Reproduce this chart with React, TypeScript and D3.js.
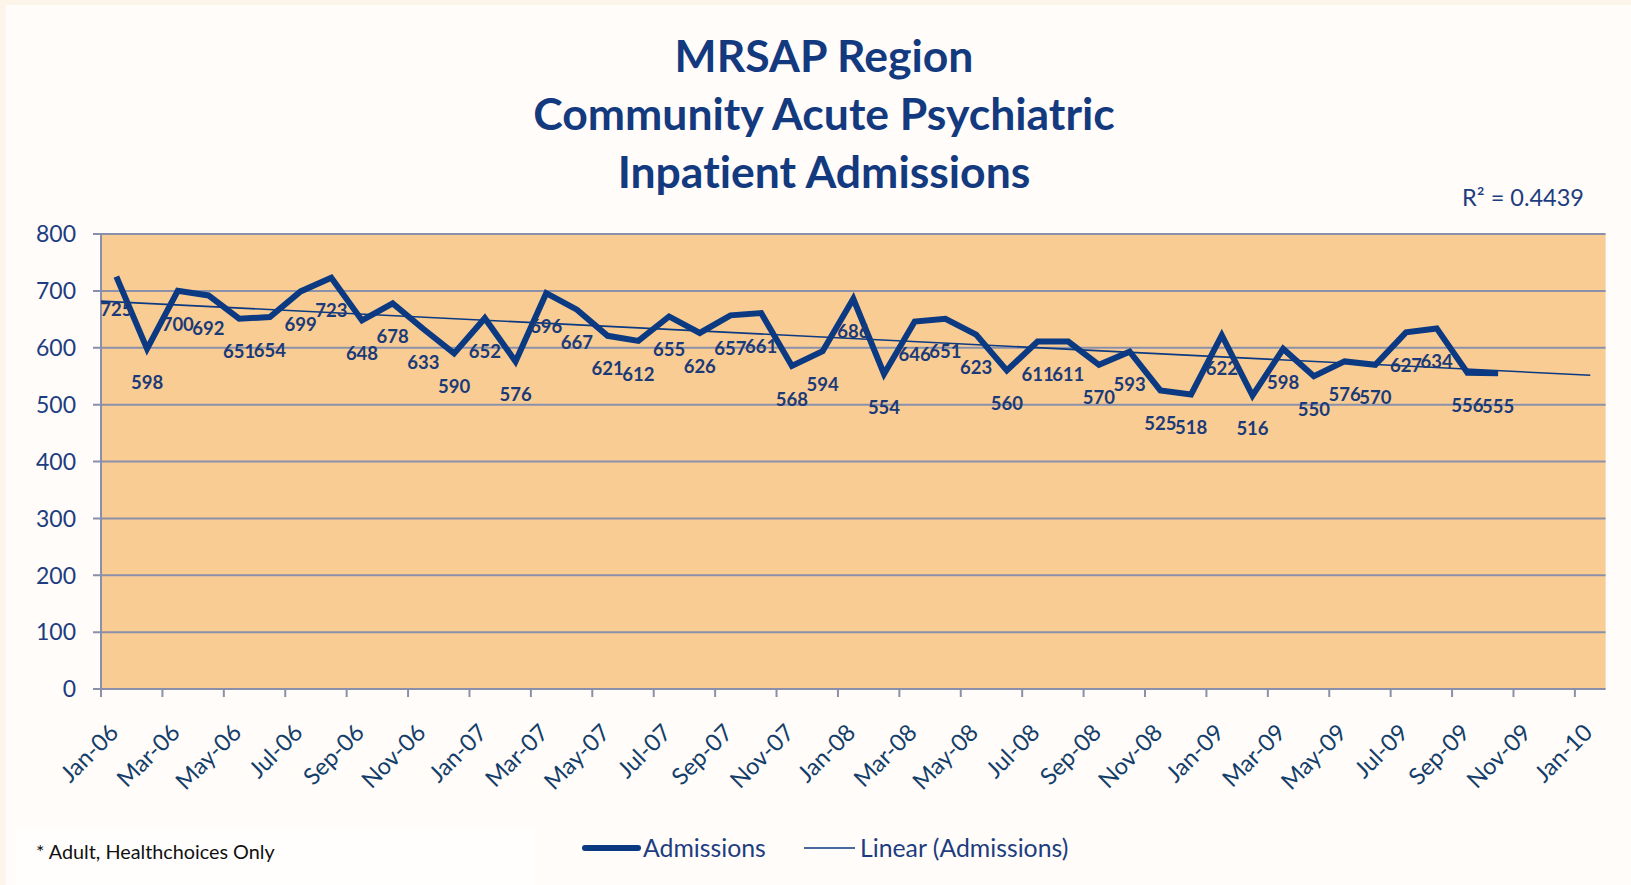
import React, { useEffect, useRef } from 'react'
import * as d3 from 'd3'

// monthly admissions, Jan-06 .. Oct-09
const months = ['Jan-06','Feb-06','Mar-06','Apr-06','May-06','Jun-06','Jul-06','Aug-06','Sep-06','Oct-06','Nov-06','Dec-06',
  'Jan-07','Feb-07','Mar-07','Apr-07','May-07','Jun-07','Jul-07','Aug-07','Sep-07','Oct-07','Nov-07','Dec-07',
  'Jan-08','Feb-08','Mar-08','Apr-08','May-08','Jun-08','Jul-08','Aug-08','Sep-08','Oct-08','Nov-08','Dec-08',
  'Jan-09','Feb-09','Mar-09','Apr-09','May-09','Jun-09','Jul-09','Aug-09','Sep-09','Oct-09']
const admissions = [725,598,700,692,651,654,699,723,648,678,633,590,
  652,576,696,667,621,612,655,626,657,661,568,594,
  686,554,646,651,623,560,611,611,570,593,525,518,
  622,516,598,550,576,570,627,634,556,555]
const tickLabels = ['Jan-06','Mar-06','May-06','Jul-06','Sep-06','Nov-06','Jan-07','Mar-07','May-07','Jul-07','Sep-07','Nov-07',
  'Jan-08','Mar-08','May-08','Jul-08','Sep-08','Nov-08','Jan-09','Mar-09','May-09','Jul-09','Sep-09','Nov-09','Jan-10']
const yTicks = [0,100,200,300,400,500,600,700,800]
const titleLines = ['MRSAP Region','Community Acute Psychiatric','Inpatient Admissions']

const W = 1631, H = 885
const navy = '#0b3a82'
const font = 'Lato, Calibri, sans-serif'

export default function App() {
  const svgRef = useRef<SVGSVGElement>(null)

  useEffect(() => {
    const svg = d3.select(svgRef.current)
    svg.selectAll('*').remove()

    const left = 101, right = 1605.6, top = 234, bottom = 689

    // month bands, points sit in the middle of each month
    const x = d3.scaleLinear().domain([0, 49]).range([left, right])
    const y = d3.scaleLinear().domain([0, 800]).range([bottom, top])

    svg.append('rect').attr('width', W).attr('height', H).attr('fill', '#fdf5ea')
    svg.append('rect').attr('x', 6).attr('y', 5).attr('width', W - 6).attr('height', H - 5).attr('fill', '#fffcf9')
    svg.append('rect').attr('x', 16).attr('y', 827).attr('width', 520).attr('height', 58).attr('fill', '#fffefd')

    // title
    svg.append('g').selectAll('text')
      .data(titleLines)
      .enter().append('text')
        .attr('x', 824)
        .attr('y', (d, i) => 72 + i * 58)
        .attr('text-anchor', 'middle')
        .style('font', `bold 44.5px ${font}`)
        .style('fill', '#13397f')
        .text(d => d)

    // plot area
    svg.append('rect')
      .attr('x', left).attr('y', top)
      .attr('width', right - left).attr('height', bottom - top)
      .attr('fill', '#f9cc94')

    const grid = svg.append('g')
    grid.selectAll('line')
      .data(yTicks)
      .enter().append('line')
        .attr('x1', left - 8).attr('x2', right)
        .attr('y1', d => y(d)).attr('y2', d => y(d))
        .style('stroke', '#8a90aa')
        .style('stroke-width', 2)

    svg.append('line')
      .attr('x1', left).attr('x2', left).attr('y1', top).attr('y2', bottom + 8)
      .style('stroke', '#8a90aa').style('stroke-width', 2)

    svg.append('g').selectAll('text')
      .data(yTicks)
      .enter().append('text')
        .attr('x', 76)
        .attr('y', d => y(d))
        .attr('dy', '0.36em')
        .attr('text-anchor', 'end')
        .style('font', `23px ${font}`)
        .style('fill', '#1d3d80')
        .text(d => d)

    // x ticks every 2 months
    const xt = svg.append('g')
    xt.selectAll('line')
      .data(tickLabels)
      .enter().append('line')
        .attr('x1', (d, i) => x(i * 2)).attr('x2', (d, i) => x(i * 2))
        .attr('y1', bottom).attr('y2', bottom + 8)
        .style('stroke', '#8a90aa').style('stroke-width', 2)
    xt.selectAll('text')
      .data(tickLabels)
      .enter().append('text')
        .attr('transform', (d, i) => `translate(${x(i * 2) + 19},734) rotate(-45)`)
        .attr('text-anchor', 'end')
        .style('font', `23.5px ${font}`)
        .style('fill', '#143e6a')
        .text(d => d)

    // linear trendline (least squares on the monthly points)
    const xs = admissions.map((v, i) => i + 0.5)
    const mx = d3.mean(xs)!, my = d3.mean(admissions)!
    const slope = d3.sum(xs, (xv, i) => (xv - mx) * (admissions[i] - my)) / d3.sum(xs, xv => (xv - mx) ** 2)
    const icpt = my - slope * mx
    svg.append('line')
      .attr('x1', x(0)).attr('y1', y(icpt))
      .attr('x2', x(48.5)).attr('y2', y(icpt + slope * 48.5))
      .style('stroke', navy).style('stroke-width', 1.6)

    const line = d3.line<number>()
      .x((d, i) => x(i + 0.5))
      .y(d => y(d))
    svg.append('path')
      .datum(admissions)
      .attr('d', line)
      .style('fill', 'none')
      .style('stroke', navy)
      .style('stroke-width', 6)
      .style('stroke-linejoin', 'miter')

    svg.append('g').selectAll('text')
      .data(admissions)
      .enter().append('text')
        .attr('x', (d, i) => x(i + 0.5))
        .attr('y', d => y(d) + 33)
        .attr('dy', '0.36em')
        .attr('text-anchor', 'middle')
        .style('font', `bold 18.5px ${font}`)
        .style('fill', '#1b3a78')
        .text(d => d)

    svg.append('text')
      .attr('x', 1584).attr('y', 206)
      .attr('text-anchor', 'end')
      .style('font', `23.5px ${font}`)
      .style('fill', '#1d3d80')
      .text('R² = 0.4439')

    // legend
    const lg = svg.append('g')
    lg.append('line').attr('x1', 585).attr('x2', 638).attr('y1', 848).attr('y2', 848)
      .style('stroke', navy).style('stroke-width', 6).style('stroke-linecap', 'round')
    lg.append('text').attr('x', 643).attr('y', 857)
      .style('font', `24.8px ${font}`).style('fill', '#1d3d80').text('Admissions')
    lg.append('line').attr('x1', 804).attr('x2', 855).attr('y1', 848).attr('y2', 848)
      .style('stroke', navy).style('stroke-width', 1.6)
    lg.append('text').attr('x', 860).attr('y', 857)
      .style('font', `24.8px ${font}`).style('fill', '#1d3d80').text('Linear (Admissions)')

    svg.append('text')
      .attr('x', 36).attr('y', 859)
      .style('font', `19.8px ${font}`).style('fill', '#111')
      .text('* Adult, Healthchoices Only')

    // the font shorthand resets ligatures, so switch them off afterwards
    svg.selectAll('text')
      .style('font-variant-ligatures', 'none')
      .style('font-feature-settings', '"liga" 0')
  }, [])

  return <div style={{ position: 'absolute', left: 0, top: 0 }}>
    <svg ref={svgRef} width={W} height={H} style={{ display: 'block' }} />
  </div>
}
